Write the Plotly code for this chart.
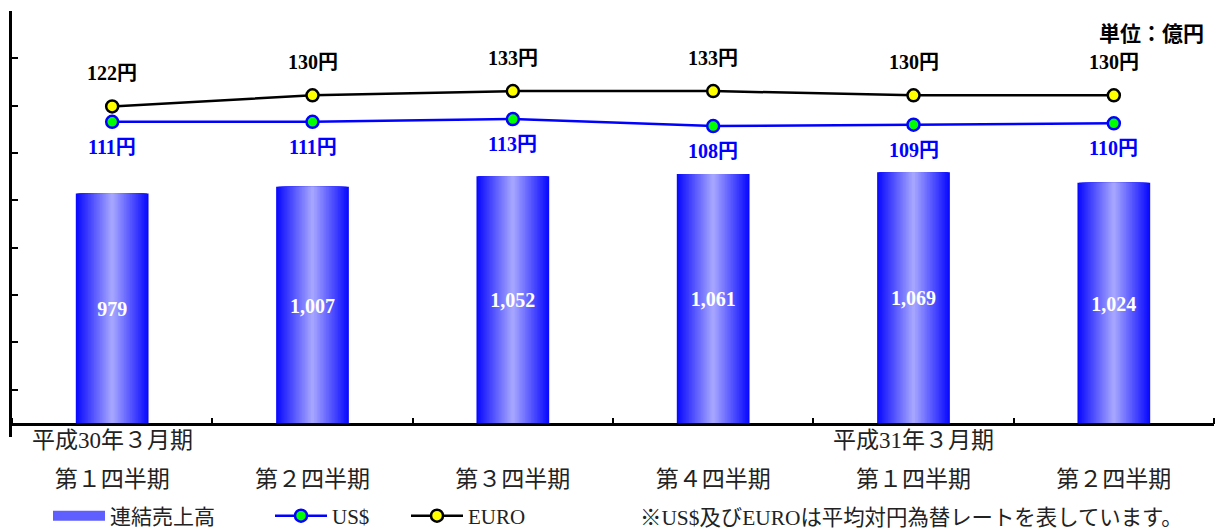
import plotly.graph_objects as go

# ---------------- data ----------------
quarters = ["第１四半期", "第２四半期", "第３四半期", "第４四半期", "第１四半期", "第２四半期"]
fiscal_years = ["平成30年３月期", "", "", "", "平成31年３月期", ""]
sales = [979, 1007, 1052, 1061, 1069, 1024]          # 連結売上高 (億円)
usd = [111, 111, 113, 108, 109, 110]                  # US$ 平均対円レート
euro = [122, 130, 133, 133, 130, 130]                 # EURO 平均対円レート
sales_labels = [f"{v:,}" for v in sales]
usd_labels = [f"{v}円" for v in usd]
euro_labels = [f"{v}円" for v in euro]

# ---------------- layout constants ----------------
W, H = 1222, 531
ML, MR, MT, MB = 12, 8, 11, 94
PW, PH = W - ML - MR, H - MT - MB


def px_x(px):
    return (px - ML) / PW


def px_y(py):
    return (H - MB - py) / PH


LATIN = "Liberation Serif"
CJK = "Noto Sans CJK JP"
FONT = f"{LATIN}, {CJK}"

xpos = list(range(len(quarters)))
bar_width = 0.363

fig = go.Figure()

# gradient bars: overlaid layers, dark edges -> light centre
N = 24
edge = (10, 10, 255)
centre = (165, 165, 255)
for i in range(N):
    t = i / (N - 1)
    c = tuple(round(edge[k] + (centre[k] - edge[k]) * t) for k in range(3))
    fig.add_trace(go.Bar(
        x=xpos, y=sales,
        width=bar_width * (1 - i / N),
        marker=dict(color=f"rgb{c}", line=dict(width=0)),
        showlegend=False, hoverinfo="skip",
    ))

# value labels on bars (transparent bar carrying text)
fig.add_trace(go.Bar(
    x=xpos, y=sales, width=bar_width,
    marker=dict(color="rgba(0,0,0,0)", line=dict(width=0)),
    text=sales_labels, textposition="inside", insidetextanchor="middle",
    textangle=0,
    textfont=dict(family=FONT, size=20, color="white", weight="bold"),
    name="連結売上高", showlegend=False,
))

# legend entry for the bars (wide swatch)
fig.add_trace(go.Scatter(
    x=[None], y=[None], mode="lines", name="連結売上高",
    line=dict(color="rgb(95,95,255)", width=14), legend="legend",
))

fig.add_trace(go.Scatter(
    x=xpos, y=usd, yaxis="y2", mode="lines+markers", name="US$",
    line=dict(color="#0000FF", width=2.5),
    marker=dict(size=12, color="#00FF00", line=dict(color="#0000FF", width=2.5)),
    legend="legend2",
))
fig.add_trace(go.Scatter(
    x=xpos, y=euro, yaxis="y2", mode="lines+markers", name="EURO",
    line=dict(color="#000000", width=2.5),
    marker=dict(size=12, color="#FFFF00", line=dict(color="#000000", width=2.5)),
    legend="legend3",
))

annotations = []
for xi, lab in zip(xpos, euro_labels):
    annotations.append(dict(x=xi, y=euro[xi], xref="x", yref="y2", text=lab,
                            showarrow=False, yshift=33,
                            font=dict(family=FONT, size=20, color="black", weight="bold")))
for xi, lab in zip(xpos, usd_labels):
    annotations.append(dict(x=xi, y=usd[xi], xref="x", yref="y2", text=lab,
                            showarrow=False, yshift=-25,
                            font=dict(family=FONT, size=20, color="#0000FF", weight="bold")))
for xi, fy in zip(xpos, fiscal_years):
    if fy:
        annotations.append(dict(x=xi, y=px_y(441), xref="x", yref="paper", text=fy,
                                showarrow=False, yanchor="middle",
                                font=dict(family=FONT, size=23, color="#222222")))
annotations.append(dict(x=px_x(1206), y=px_y(32), xref="paper", yref="paper",
                        text="単位：億円", showarrow=False, xanchor="right", yanchor="middle",
                        font=dict(family=CJK, size=21, color="black", weight="bold")))
annotations.append(dict(x=px_x(638), y=px_y(518), xref="paper", yref="paper",
                        text="※US$及びEUROは平均対円為替レートを表しています。",
                        showarrow=False, xanchor="left", yanchor="middle",
                        font=dict(family=FONT, size=21.4, color="#222222")))

bar_lo, bar_hi = -53.0, 1752.0
line_lo, line_hi = -114.1, 190.2

leg_common = dict(orientation="h", xanchor="left", yanchor="middle",
                  bgcolor="rgba(0,0,0,0)", borderwidth=0,
                  font=dict(family=FONT, size=21, color="#222222"),
                  itemwidth=52)

fig.update_layout(
    width=W, height=H,
    margin=dict(l=ML, r=MR, t=MT, b=MB, pad=0, autoexpand=False),
    paper_bgcolor="white", plot_bgcolor="white",
    barmode="overlay",
    xaxis=dict(
        range=[-0.5, len(quarters) - 0.5],
        anchor="free", position=(0 - bar_lo) / (bar_hi - bar_lo),
        showline=True, linecolor="black", linewidth=2.5,
        tickmode="array", tickvals=xpos, ticktext=quarters,
        ticks="", ticklabelstandoff=33,
        tickfont=dict(family=FONT, size=23, color="#222222"),
        minor=dict(tickmode="linear", tick0=-0.5, dtick=1, ticks="inside",
                   ticklen=6, tickwidth=2, tickcolor="black", showgrid=False),
        showgrid=False, zeroline=False, fixedrange=True, automargin=False,
    ),
    yaxis=dict(
        range=[bar_lo, bar_hi + 0.01],
        showline=True, linecolor="black", linewidth=2.5,
        tickmode="linear", tick0=bar_lo, dtick=(bar_hi - bar_lo) / 9,
        ticks="inside", ticklen=6, tickwidth=2, tickcolor="black",
        showticklabels=False, showgrid=False, zeroline=False, automargin=False,
    ),
    yaxis2=dict(range=[line_lo, line_hi], overlaying="y", visible=False),
    legend=dict(x=px_x(48), y=px_y(516), **leg_common),
    legend2=dict(x=px_x(270), y=px_y(516), **leg_common),
    legend3=dict(x=px_x(406), y=px_y(516), **leg_common),
    annotations=annotations,
    showlegend=True,
)

fig.write_html("out.html")
